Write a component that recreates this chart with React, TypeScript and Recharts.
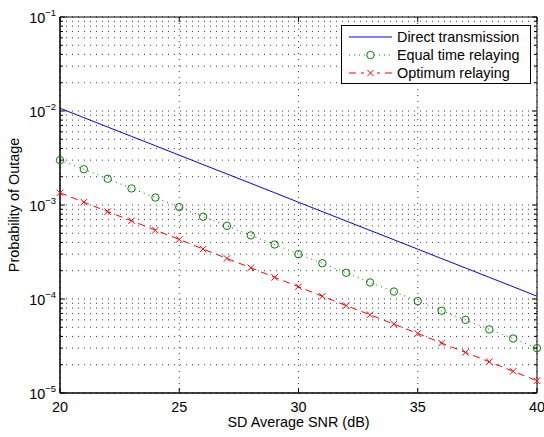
import React from "react";
import {
  LineChart, Line, XAxis, YAxis, CartesianGrid, Legend, ReferenceArea,
} from "recharts";

// SD average SNR (dB)
const SNR = [20, 21, 22, 23, 24, 25, 26, 27, 28, 29, 30, 31, 32, 33, 34, 35, 36, 37, 38, 39, 40];

// outage probability
const DIRECT = [
  1.07e-2, 8.5e-3, 6.75e-3, 5.37e-3, 4.27e-3, 3.39e-3, 2.69e-3, 2.14e-3, 1.7e-3, 1.35e-3,
  1.07e-3, 8.5e-4, 6.75e-4, 5.37e-4, 4.27e-4, 3.39e-4, 2.69e-4, 2.14e-4, 1.7e-4, 1.35e-4, 1.07e-4,
];
const EQUAL_TIME = [
  3.0e-3, 2.4e-3, 1.9e-3, 1.5e-3, 1.2e-3, 9.5e-4, 7.5e-4, 6.0e-4, 4.75e-4, 3.8e-4,
  3.0e-4, 2.4e-4, 1.9e-4, 1.5e-4, 1.2e-4, 9.5e-5, 7.5e-5, 6.0e-5, 4.75e-5, 3.8e-5, 3.0e-5,
];
const OPTIMUM = [
  1.35e-3, 1.07e-3, 8.5e-4, 6.8e-4, 5.4e-4, 4.3e-4, 3.4e-4, 2.7e-4, 2.15e-4, 1.7e-4,
  1.35e-4, 1.07e-4, 8.5e-5, 6.8e-5, 5.4e-5, 4.3e-5, 3.4e-5, 2.7e-5, 2.15e-5, 1.7e-5, 1.35e-5,
];

const X_TICKS = [20, 25, 30, 35, 40];
const Y_MAJOR = [1e-5, 1e-4, 1e-3, 1e-2, 1e-1];
const Y_TICKS = [
  1e-5, 2e-5, 3e-5, 4e-5, 5e-5, 6e-5, 7e-5, 8e-5, 9e-5,
  1e-4, 2e-4, 3e-4, 4e-4, 5e-4, 6e-4, 7e-4, 8e-4, 9e-4,
  1e-3, 2e-3, 3e-3, 4e-3, 5e-3, 6e-3, 7e-3, 8e-3, 9e-3,
  1e-2, 2e-2, 3e-2, 4e-2, 5e-2, 6e-2, 7e-2, 8e-2, 9e-2,
  1e-1,
];

const SERIES = [
  { key: "direct", name: "Direct transmission", color: "#0000ff" },
  { key: "equal", name: "Equal time relaying", color: "#008000" },
  { key: "optimum", name: "Optimum relaying", color: "#ff0000" },
];

const data = SNR.map((s, i) => ({
  snr: s,
  direct: DIRECT[i],
  equal: EQUAL_TIME[i],
  optimum: OPTIMUM[i],
}));

const W = 544;
const H = 437;
const PLOT_W = 477;
const PLOT_H = 376;
const FONT = "'Liberation Sans', Arial, sans-serif";
const FS = 14.4;

const isMajor = (v: number) => Y_MAJOR.some((m) => Math.abs(v - m) / m < 1e-6);

function YTick(props: any) {
  const { x, y, payload } = props;
  const v = payload.value;
  const major = isMajor(v);
  const len = major ? 5 : 3;
  const exp = Math.round(Math.log10(v));
  return (
    <g>
      <line x1={x} x2={x + len} y1={y} y2={y} stroke="#000" />
      <line x1={x + PLOT_W - len} x2={x + PLOT_W} y1={y} y2={y} stroke="#000" />
      {major && (
        <text x={x - 4} y={y + 5.5} textAnchor="end" fontSize={FS} fill="#000" fontFamily={FONT}>
          <tspan>10</tspan>
          <tspan dy={-7} fontSize={9.5}>{`\u2212${Math.abs(exp)}`}</tspan>
        </text>
      )}
    </g>
  );
}

function XTick(props: any) {
  const { x, y, payload } = props;
  return (
    <g>
      <line x1={x} x2={x} y1={y} y2={y - 5} stroke="#000" />
      <line x1={x} x2={x} y1={y - PLOT_H} y2={y - PLOT_H + 5} stroke="#000" />
      <text x={x} y={y + 19} textAnchor="middle" fontSize={FS} fill="#000" fontFamily={FONT}>
        {payload.value}
      </text>
    </g>
  );
}

function CrossDot(props: any) {
  const { cx, cy } = props;
  if (cx == null || cy == null) return <g />;
  const r = 3.2;
  return (
    <g>
      <line x1={cx - r} y1={cy - r} x2={cx + r} y2={cy + r} stroke="#ff0000" />
      <line x1={cx - r} y1={cy + r} x2={cx + r} y2={cy - r} stroke="#ff0000" />
    </g>
  );
}

function LegendBox() {
  const row = { display: "flex", alignItems: "center", height: 18 } as const;
  return (
    <div
      style={{
        border: "1px solid #000", background: "#fff", padding: "2px 4px 1px 7px",
        fontSize: FS, fontFamily: FONT, color: "#000", lineHeight: "18px",
        whiteSpace: "nowrap",
      }}
    >
      <div style={row}>
        <svg width={43} height={10}>
          <line x1={0} x2={43} y1={5} y2={5} stroke="#0000ff" />
        </svg>
        <span style={{ marginLeft: 5 }}>{SERIES[0].name}</span>
      </div>
      <div style={row}>
        <svg width={43} height={10}>
          <line x1={0} x2={43} y1={5} y2={5} stroke="#008000" strokeDasharray="1 4" />
          <circle cx={21.5} cy={5} r={3.7} fill="#fff" stroke="#008000" />
        </svg>
        <span style={{ marginLeft: 5 }}>{SERIES[1].name}</span>
      </div>
      <div style={row}>
        <svg width={43} height={10}>
          <line x1={0} x2={43} y1={5} y2={5} stroke="#ff0000" strokeDasharray="7 5" />
          <rect x={15} y={0} width={13} height={10} fill="#fff" />
          <line x1={18.5} y1={2} x2={24.5} y2={8} stroke="#ff0000" />
          <line x1={18.5} y1={8} x2={24.5} y2={2} stroke="#ff0000" />
        </svg>
        <span style={{ marginLeft: 5 }}>{SERIES[2].name}</span>
      </div>
    </div>
  );
}

export default function App() {
  return (
    <div style={{ position: "absolute", left: 0, top: 0, width: W, height: H, background: "#fff", fontFamily: FONT }}>
      <LineChart width={W} height={H} data={data} margin={{ top: 17, right: 7, left: 0, bottom: 0 }}>
        <CartesianGrid stroke="#222" strokeDasharray="1 5" strokeWidth={0.9} />
        <XAxis
          dataKey="snr"
          type="number"
          domain={[20, 40]}
          ticks={X_TICKS}
          interval={0}
          height={44}
          tickSize={0}
          tickMargin={0}
          tickLine={false}
          axisLine={{ stroke: "#000" }}
          tick={<XTick />}
          label={{ value: "SD Average SNR (dB)", position: "insideBottom", offset: 10, fill: "#000", fontSize: FS, fontFamily: FONT }}
        />
        <YAxis
          scale="log"
          type="number"
          domain={[1e-5, 1e-1]}
          ticks={Y_TICKS}
          interval={0}
          width={60}
          tickSize={0}
          tickMargin={0}
          tickLine={false}
          allowDataOverflow
          axisLine={{ stroke: "#000" }}
          tick={<YTick />}
          label={{ value: "Probability of Outage", angle: -90, position: "insideLeft", offset: 14, fill: "#000", fontSize: FS, fontFamily: FONT, style: { textAnchor: "middle" } }}
        />
        <ReferenceArea x1={20} x2={40} y1={1e-5} y2={1e-1} fill="none" stroke="#000" strokeWidth={1} ifOverflow="visible" />
        <Line
          dataKey="direct"
          name={SERIES[0].name}
          stroke={SERIES[0].color}
          strokeWidth={1}
          dot={false}
          activeDot={false}
          isAnimationActive={false}
        />
        <Line
          dataKey="equal"
          name={SERIES[1].name}
          stroke={SERIES[1].color}
          strokeWidth={1}
          strokeDasharray="1 4"
          dot={{ r: 3.7, fill: "none", stroke: SERIES[1].color, strokeWidth: 1, strokeDasharray: "" }}
          activeDot={false}
          isAnimationActive={false}
        />
        <Line
          dataKey="optimum"
          name={SERIES[2].name}
          stroke={SERIES[2].color}
          strokeWidth={1}
          strokeDasharray="7 5"
          dot={<CrossDot />}
          activeDot={false}
          isAnimationActive={false}
        />
        <Legend
          layout="horizontal"
          verticalAlign="middle"
          align="center"
          content={<LegendBox />}
          wrapperStyle={{ position: "absolute", left: 341, top: 25, width: 190, height: "auto" }}
        />
      </LineChart>
    </div>
  );
}
